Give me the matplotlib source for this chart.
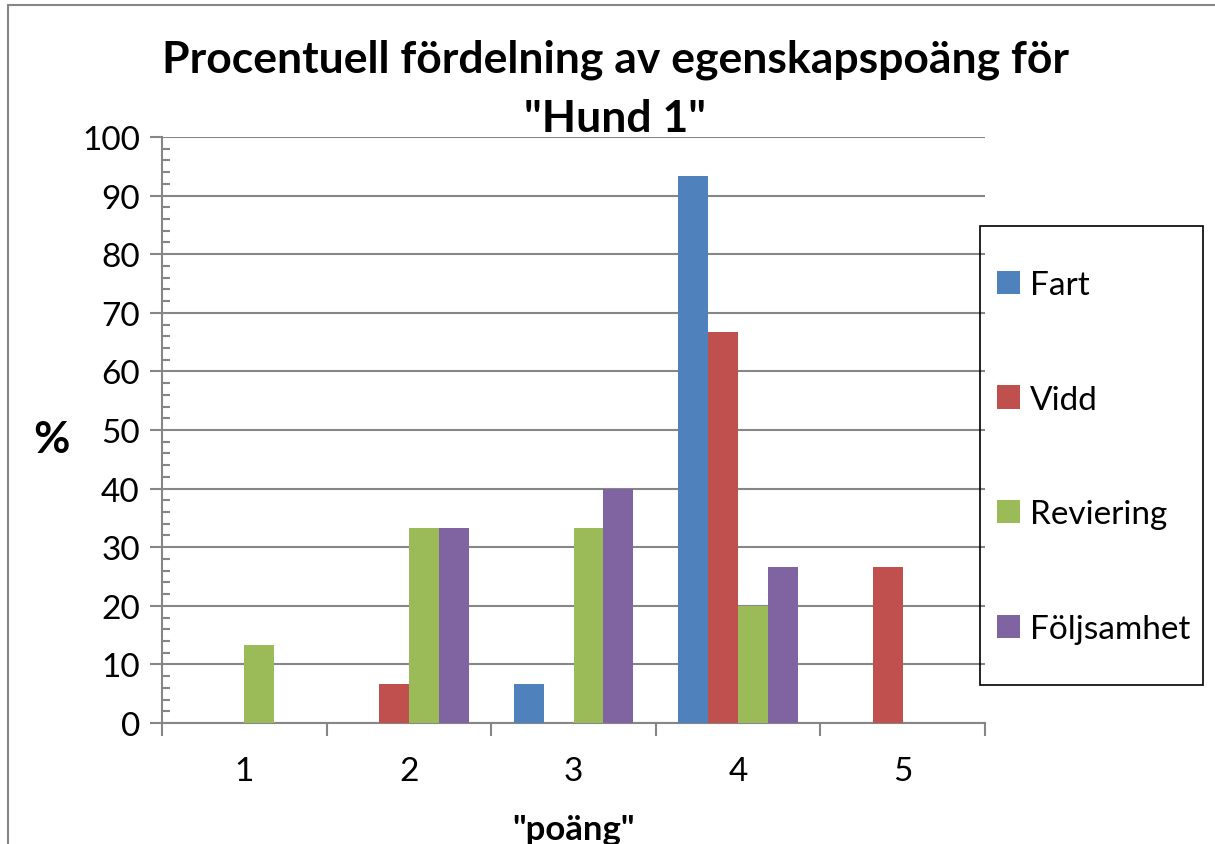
import numpy as np
import matplotlib
matplotlib.use("Agg")
import matplotlib.pyplot as plt
from matplotlib.patches import Rectangle

plt.rcParams['font.family'] = ['Lato', 'DejaVu Sans']

categories = ["1", "2", "3", "4", "5"]
series = ["Fart", "Vidd", "Reviering", "Följsamhet"]
fart = [0, 0, 6.67, 93.33, 0]
vidd = [0, 6.67, 0, 66.67, 26.67]
reviering = [13.33, 33.33, 33.33, 20, 0]
foljsamhet = [0, 33.33, 40, 26.67, 0]
colors = ["#4F81BD", "#C0504D", "#9BBB59", "#8064A2"]

grid_c = "#868686"

fig = plt.figure(figsize=(12.15, 8.45), dpi=100)
ax = fig.add_axes([162/1215, 1 - 724/845, (985 - 162)/1215, (724 - 138)/845])

# yttre ram (Excel-diagram)
fig.patches.append(Rectangle((8/1215, -0.2), 1.2, 1 - 6/845 + 0.2, transform=fig.transFigure,
                             fill=False, edgecolor=grid_c, lw=1.5))

x = np.arange(1, len(categories) + 1)
w = 1 / 5.5
for i, (vals, name) in enumerate(zip([fart, vidd, reviering, foljsamhet], series)):
    ax.bar(x + (i - 1.5) * w, vals, width=w, color=colors[i], label=name, zorder=3)

ax.set_xlim(0.5, 5.5)
ax.set_ylim(0, 100)
ax.set_yticks(np.arange(0, 101, 10))
ax.set_yticks(np.arange(0, 101, 2), minor=True)
ax.set_xticks(x)
ax.set_xticklabels(categories)
ax.set_xticks(np.arange(0.5, 5.6, 1), minor=True)

ax.yaxis.grid(True, which="major", color=grid_c, lw=1.5, zorder=0)
ax.set_axisbelow(True)
for s in ["top", "right"]:
    ax.spines[s].set_visible(False)
for s in ["left", "bottom"]:
    ax.spines[s].set_color(grid_c)
    ax.spines[s].set_linewidth(1.5)

ax.tick_params(axis="y", which="major", direction="out", length=9, width=1.5,
               color=grid_c, labelsize=24, pad=7)
ax.tick_params(axis="y", which="minor", direction="in", length=6, width=1.5, color=grid_c)
ax.tick_params(axis="x", which="major", length=0, labelsize=24, pad=24)
ax.tick_params(axis="x", which="minor", direction="out", length=9, width=1.5, color=grid_c)

ax.set_xlabel('"poäng"', fontsize=25, fontweight="bold", labelpad=19)
ax.set_ylabel("%", fontsize=32, fontweight="bold", rotation=0, va="center", ha="center")
ax.yaxis.set_label_coords(-0.134, (724 - 440) / 586)

fig.text(615/1215, 1 - 40/845, 'Procentuell fördelning av egenskapspoäng för\n"Hund 1"',
         ha="center", va="top", fontsize=32, fontweight="bold", linespacing=1.55)

# legend med egen ram
fig.patches.append(Rectangle((980/1215, 1 - 686/845), 223/1215, 459/845,
                             transform=fig.transFigure, fill=False, edgecolor="black", lw=1.2))
leg = fig.legend(loc="upper left", bbox_to_anchor=(997/1215, 1 - 271/845), frameon=False,
                 fontsize=24, handlelength=0.7, handleheight=0.7, handletextpad=0.3,
                 labelspacing=2.54, borderpad=0, borderaxespad=0)

fig.savefig("out.png", dpi=100)
